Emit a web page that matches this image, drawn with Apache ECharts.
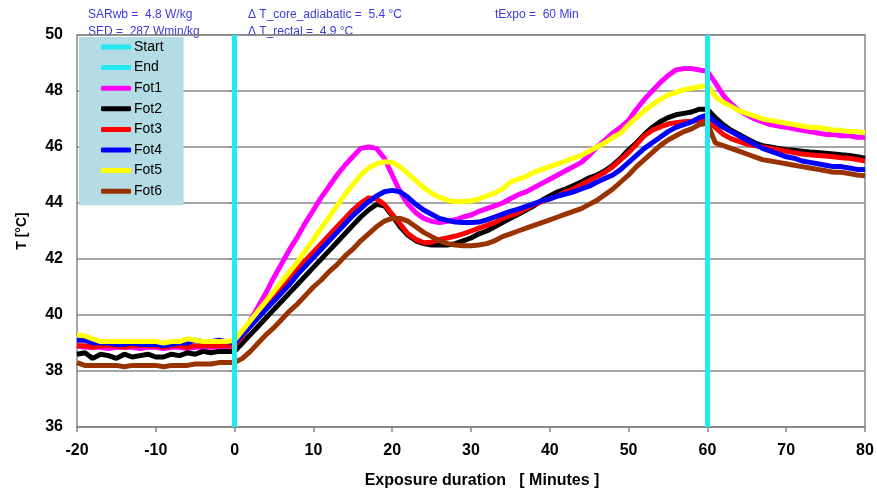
<!DOCTYPE html>
<html>
<head>
<meta charset="utf-8">
<script src="https://cdn.jsdelivr.net/npm/echarts@6/dist/echarts.min.js"></script>
<style>
  html, body { margin: 0; padding: 0; background: #fff; }
  #main { width: 877px; height: 490px; }
</style>
</head>
<body>
<div id="main"></div>
<script type="text/javascript">
    // time axis: one reading per minute from -20 to 80
    var firstMinute = -20;
    var startMinute = 0;
    var endMinute = 60;

    var fot1 = [38.9, 38.85, 38.85, 38.85, 38.8, 38.85, 38.85, 38.85, 38.8, 38.85, 38.85, 38.8, 38.85, 38.85, 38.8, 38.85, 38.85, 38.85, 38.85, 38.85,
        38.9, 39.3, 39.8, 40.3, 40.8, 41.35, 41.85, 42.35, 42.8, 43.3, 43.75,
        44.2, 44.6, 45.0, 45.35, 45.65, 45.95, 46.0, 45.95, 45.6, 45.0,
        44.4, 43.95, 43.65, 43.45, 43.35, 43.3, 43.35, 43.4, 43.5, 43.57,
        43.7, 43.8, 43.9, 44.0, 44.15, 44.3, 44.4, 44.55, 44.7, 44.85,
        45.0, 45.15, 45.3, 45.45, 45.7, 46.0, 46.25, 46.5, 46.7, 46.95,
        47.35, 47.7, 48.0, 48.3, 48.55, 48.75, 48.8, 48.8, 48.75, 48.7,
        48.3, 47.85, 47.55, 47.3, 47.15, 47.0, 46.9, 46.8, 46.75, 46.7,
        46.65, 46.6, 46.55, 46.5, 46.45, 46.45, 46.4, 46.4, 46.35, 46.35];

    var fot2 = [38.6, 38.65, 38.45, 38.6, 38.55, 38.45, 38.6, 38.5, 38.55, 38.6, 38.5, 38.5, 38.6, 38.55, 38.65, 38.6, 38.7, 38.65, 38.7, 38.7,
        38.7, 39.0, 39.3, 39.6, 39.9, 40.2, 40.5, 40.8, 41.1, 41.4, 41.7,
        42.0, 42.3, 42.6, 42.9, 43.2, 43.5, 43.75, 43.95, 43.9, 43.55,
        43.15, 42.85, 42.65, 42.55, 42.5, 42.5, 42.5, 42.55, 42.65, 42.75,
        42.9, 43.0, 43.15, 43.3, 43.45, 43.6, 43.75, 43.9, 44.1, 44.25,
        44.4, 44.5, 44.62, 44.75, 44.9, 45.0, 45.15, 45.35, 45.6, 45.9,
        46.15, 46.45, 46.7, 46.9, 47.05, 47.15, 47.2, 47.25, 47.35, 47.35,
        47.05, 46.8, 46.6, 46.45, 46.3, 46.15, 46.05, 46.0, 45.95, 45.9,
        45.88, 45.85, 45.82, 45.8, 45.78, 45.75, 45.72, 45.7, 45.65, 45.6];

    var fot3 = [38.9, 38.9, 38.85, 38.9, 38.9, 38.9, 38.85, 38.9, 38.9, 38.9, 38.9, 38.85, 38.9, 38.9, 38.85, 38.9, 38.9, 38.9, 38.9, 38.9,
        38.9, 39.25, 39.6, 39.95, 40.3, 40.65, 41.0, 41.35, 41.65, 41.95, 42.25,
        42.55, 42.85, 43.15, 43.45, 43.75, 44.0, 44.18, 44.15, 43.95, 43.6,
        43.25, 42.9, 42.7, 42.58, 42.6, 42.7, 42.75, 42.82, 42.9, 43.0,
        43.1, 43.2, 43.3, 43.45, 43.55, 43.65, 43.8, 43.95, 44.05, 44.15,
        44.25, 44.4, 44.5, 44.65, 44.8, 44.95, 45.1, 45.3, 45.55, 45.8,
        46.1, 46.4, 46.6, 46.72, 46.82, 46.87, 46.9, 46.92, 46.95, 46.97,
        46.7, 46.45, 46.3, 46.2, 46.1, 46.05, 46.0, 45.95, 45.9, 45.85,
        45.8, 45.75, 45.72, 45.7, 45.68, 45.65, 45.62, 45.6, 45.55, 45.5];

    var fot4 = [39.1, 39.1, 39.0, 39.0, 39.0, 38.95, 38.95, 39.0, 38.95, 38.95, 38.95, 38.9, 38.95, 39.0, 39.0, 39.1, 39.05, 39.05, 39.1, 39.05,
        39.0, 39.3, 39.6, 39.9, 40.2, 40.5, 40.8, 41.1, 41.45, 41.75, 42.05,
        42.35, 42.65, 42.95, 43.25, 43.55, 43.8, 44.05, 44.25, 44.4, 44.45,
        44.4, 44.2, 43.95, 43.75, 43.6, 43.45, 43.38, 43.32, 43.3, 43.3,
        43.32, 43.4, 43.5, 43.6, 43.7, 43.78, 43.88, 43.98, 44.08, 44.15,
        44.25, 44.32, 44.4, 44.5, 44.6, 44.75, 44.88, 45.0, 45.2, 45.45,
        45.7, 45.95, 46.15, 46.35, 46.55, 46.7, 46.8, 46.9, 47.05, 47.15,
        46.9, 46.7, 46.55, 46.4, 46.25, 46.1, 45.95, 45.85, 45.75, 45.65,
        45.6, 45.5, 45.45, 45.4, 45.35, 45.3, 45.3, 45.25, 45.2, 45.2];

    var fot5 = [39.3, 39.25, 39.15, 39.05, 39.05, 39.05, 39.05, 39.05, 39.05, 39.05, 39.05, 39.0, 39.05, 39.05, 39.15, 39.1, 39.05, 39.05, 39.05, 39.05,
        39.1, 39.45, 39.8, 40.15, 40.5, 40.85, 41.2, 41.55, 41.9, 42.3, 42.7,
        43.1, 43.5, 43.9, 44.3, 44.65, 45.0, 45.25, 45.4, 45.47, 45.45,
        45.3, 45.05, 44.8, 44.55, 44.35, 44.2, 44.1, 44.05, 44.05, 44.07,
        44.15, 44.25, 44.35, 44.5, 44.75, 44.85, 44.95, 45.1, 45.2, 45.3,
        45.4, 45.5, 45.6, 45.7, 45.85, 46.0, 46.15, 46.35, 46.5, 46.8,
        47.05, 47.3, 47.5, 47.7, 47.85, 47.95, 48.05, 48.1, 48.15, 48.2,
        47.8, 47.6, 47.45, 47.3, 47.2, 47.1, 47.0, 46.95, 46.9, 46.85,
        46.8, 46.75, 46.7, 46.7, 46.65, 46.6, 46.6, 46.55, 46.55, 46.5];

    var fot6 = [38.3, 38.2, 38.2, 38.2, 38.2, 38.2, 38.15, 38.2, 38.2, 38.2, 38.2, 38.15, 38.2, 38.2, 38.2, 38.25, 38.25, 38.25, 38.3, 38.3,
        38.3, 38.45, 38.7, 39.0, 39.3, 39.55, 39.85, 40.15, 40.4, 40.7, 41.0,
        41.25, 41.55, 41.8, 42.1, 42.35, 42.65, 42.9, 43.15, 43.35, 43.45,
        43.45, 43.35, 43.15, 42.95, 42.8, 42.65, 42.55, 42.5, 42.47, 42.47,
        42.5, 42.55, 42.65, 42.8, 42.9, 43.0, 43.1, 43.2, 43.3, 43.4,
        43.5, 43.6, 43.7, 43.8, 43.95, 44.1, 44.3, 44.5, 44.75, 45.0,
        45.3, 45.55, 45.8, 46.05, 46.25, 46.4, 46.55, 46.65, 46.8, 46.85,
        46.15, 46.05, 45.95, 45.85, 45.75, 45.65, 45.55, 45.5, 45.45, 45.4,
        45.35, 45.3, 45.25, 45.2, 45.15, 45.1, 45.1, 45.05, 45.0, 44.97];

    var seriesNames = ['Fot1', 'Fot2', 'Fot3', 'Fot4', 'Fot5', 'Fot6'];
    var seriesValues = [fot1, fot2, fot3, fot4, fot5, fot6];
    var seriesColors = ['#ff00ff', '#000000', '#ff0000', '#0000ff', '#ffff00', '#993300'];
    var xTicks = [-20, 80, 10];
    var yTicks = [36, 50, 2];

    function pairs(values) {
        var out = [];
        for (var i = 0; i < values.length; i++) {
            out.push([firstMinute + i, values[i]]);
        }
        return out;
    }

    var fontName = '"Liberation Sans", Arial, sans-serif';
    var cyan = '#22e8f0';

    function marker(name, minute) {
        return {
            name: name,
            type: 'line',
            data: [],
            symbol: 'none',
            lineStyle: { color: cyan, width: 5 },
            itemStyle: { color: cyan },
            markLine: {
                silent: true,
                symbol: ['none', 'none'],
                label: { show: false },
                lineStyle: { color: cyan, width: 5, type: 'solid' },
                data: [{ xAxis: minute }]
            }
        };
    }

    var series = [marker('Start', startMinute), marker('End', endMinute)];
    for (var k = 0; k < seriesNames.length; k++) {
        series.push({
            name: seriesNames[k],
            type: 'line',
            data: pairs(seriesValues[k]),
            symbol: 'none',
            showSymbol: false,
            lineStyle: { color: seriesColors[k], width: 5 },
            itemStyle: { color: seriesColors[k] }
        });
    }

    var myChart = echarts.init(document.getElementById('main'));

    var infoStyle = { fill: '#3b3bdc', font: '12px ' + fontName };

    var option = {
        animation: false,
        backgroundColor: '#ffffff',
        grid: {
            left: 77,
            right: 12,
            top: 35,
            bottom: 63,
            outerBoundsMode: 'none',
            show: true,
            borderColor: '#888888',
            borderWidth: 1.5
        },
        legend: {
            orient: 'vertical',
            left: 79,
            top: 37,
            backgroundColor: '#b4dce4',
            padding: [2, 20, 6, 22],
            icon: 'roundRect',
            itemWidth: 30,
            itemHeight: 5,
            itemGap: 4.6,
            selectedMode: false,
            textStyle: { fontFamily: fontName, fontSize: 14, lineHeight: 16, color: '#000', padding: [0, 0, 0, -2] },
            data: ['Start', 'End'].concat(seriesNames)
        },
        xAxis: {
            type: 'value',
            min: xTicks[0],
            max: xTicks[1],
            interval: xTicks[2],
            name: 'Exposure duration   [ Minutes ]',
            nameLocation: 'middle',
            nameGap: 46,
            nameTextStyle: { fontFamily: fontName, fontSize: 16, fontWeight: 'bold', color: '#000', padding: [0, 0, 0, 22] },
            axisLine: { lineStyle: { color: '#888888', width: 1.5 } },
            axisTick: { show: true, length: 5, lineStyle: { color: '#888888', width: 1.5 } },
            axisLabel: { fontFamily: fontName, fontSize: 16, fontWeight: 'bold', color: '#000', margin: 16 },
            splitLine: { show: false }
        },
        yAxis: {
            type: 'value',
            min: yTicks[0],
            max: yTicks[1],
            interval: yTicks[2],
            name: 'T [°C]',
            nameLocation: 'middle',
            nameGap: 48,
            nameRotate: 90,
            nameTextStyle: { fontFamily: fontName, fontSize: 14, fontWeight: 'bold', color: '#000' },
            axisLine: { show: true, lineStyle: { color: '#888888', width: 1.5 } },
            axisTick: { show: true, length: 5, lineStyle: { color: '#888888', width: 1.5 } },
            axisLabel: { fontFamily: fontName, fontSize: 16, fontWeight: 'bold', color: '#000', margin: 14 },
            splitLine: { show: true, lineStyle: { color: '#888888', width: 1.5 } }
        },
        graphic: [
            { type: 'text', left: 88, top: 9, style: Object.assign({ text: 'SARwb =  4.8 W/kg' }, infoStyle) },
            { type: 'text', left: 88, top: 26, style: Object.assign({ text: 'SED =  287 Wmin/kg' }, infoStyle) },
            { type: 'text', left: 248, top: 9, style: Object.assign({ text: 'Δ T_core_adiabatic =  5.4 °C' }, infoStyle) },
            { type: 'text', left: 248, top: 26, style: Object.assign({ text: 'Δ T_rectal =  4.9 °C' }, infoStyle) },
            { type: 'text', left: 495, top: 9, style: Object.assign({ text: 'tExpo =  60 Min' }, infoStyle) }
        ],
        series: series
    };

    myChart.setOption(option);
</script>
</body>
</html>
